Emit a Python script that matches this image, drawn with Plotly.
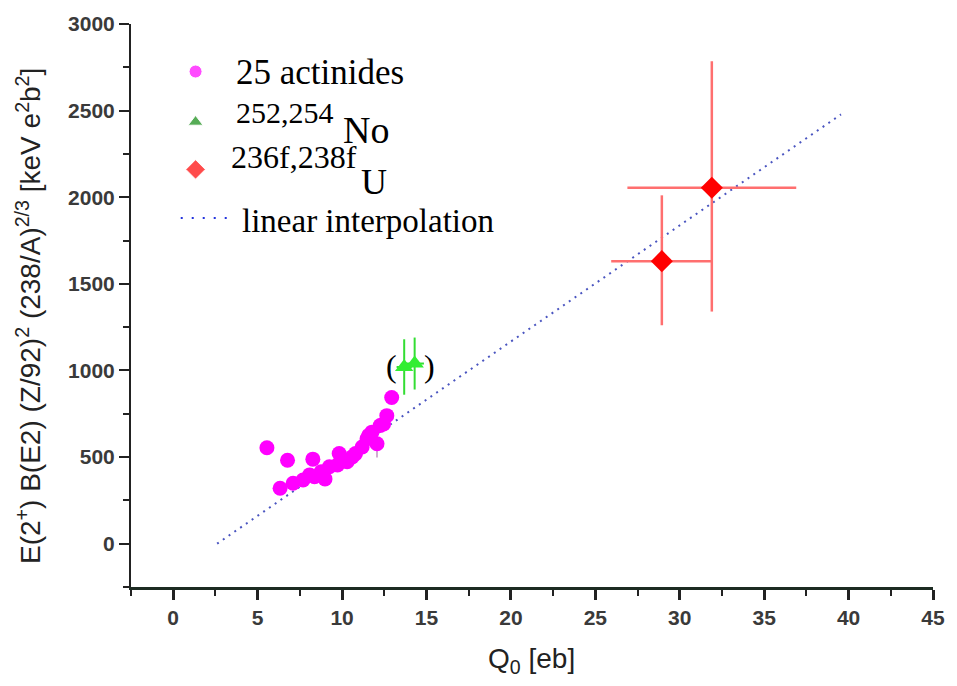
import plotly.graph_objects as go

# ---- data ----
act_q0 = [5.55, 6.77, 8.27, 6.33, 7.10, 7.69, 8.37, 8.99, 9.83, 9.73, 10.30, 10.80, 11.19,
          11.48, 11.77, 12.07, 12.26, 12.65, 12.94, 12.46, 9.25, 8.08, 11.58, 10.60, 8.76]
act_val = [554, 482, 488, 320, 349, 368, 387, 374, 520, 454, 473, 520, 558,
           606, 644, 577, 682, 739, 844, 691, 444, 397, 625, 501, 415]
act_err = [0, 0, 0, 0, 0, 0, 0, 0, 0, 0, 0, 0, 0,
           0, 0, 80, 0, 0, 0, 0, 0, 0, 0, 0, 0]

no_q0 = [13.68, 14.30]
no_val = [1020, 1040]
no_xerr = [0.45, 0.55]
no_yerr = [160, 150]

u_q0 = [28.94, 31.90]
u_val = [1631, 2055]
u_xerr = [3.0, 5.0]
u_yerr_plus = [380, 730]
u_yerr_minus = [370, 715]

fit_q0 = [2.6, 39.55]
fit_val = [0, 2478]

x_ticks = [0, 5, 10, 15, 20, 25, 30, 35, 40, 45]
y_ticks = [0, 500, 1000, 1500, 2000, 2500, 3000]

# legend symbol positions (axis fraction)
leg_x = [0.0805, 0.0805, 0.0805]
leg_y = [0.9156, 0.826, 0.7417]
leg_line_x = [0.062, 0.1248]
leg_line_y = [0.6555, 0.6555]

fig = go.Figure()

fig.add_trace(go.Scatter(
    x=fit_q0, y=fit_val, mode="lines",
    line=dict(color="#4a55c0", width=2, dash="2px,5px"),
    name="linear interpolation", showlegend=False))

fig.add_trace(go.Scatter(
    x=act_q0, y=act_val, mode="markers",
    marker=dict(symbol="circle", size=15, color="#ff00ff"),
    error_y=dict(type="data", array=act_err, color="#c090c0", thickness=1.5, width=0),
    name="25 actinides", showlegend=False))

fig.add_trace(go.Scatter(
    x=no_q0, y=no_val, mode="markers",
    marker=dict(symbol="triangle-up", size=16, color="#33ee33"),
    error_x=dict(type="data", array=no_xerr, color="#33dd33", thickness=2, width=0),
    error_y=dict(type="data", array=no_yerr, color="#33dd33", thickness=2, width=0),
    name="252,254No", showlegend=False))

fig.add_trace(go.Scatter(
    x=u_q0, y=u_val, mode="markers",
    marker=dict(symbol="diamond", size=17, color="#ff0000"),
    error_x=dict(type="data", array=u_xerr, color="#ff6f6f", thickness=2.5, width=0),
    error_y=dict(type="data", array=u_yerr_plus, arrayminus=u_yerr_minus,
                 color="#ff6f6f", thickness=2.5, width=0),
    name="236f,238fU", showlegend=False))

# legend symbols on an overlay axis
fig.add_trace(go.Scatter(
    x=leg_x, y=leg_y, mode="markers", xaxis="x2", yaxis="y2",
    marker=dict(symbol=["circle", "triangle-up", "diamond"], size=[13, 13, 15],
                color=["#ff00ff", "#108a10", "#ff0000"]),
    showlegend=False, hoverinfo="skip"))
fig.add_trace(go.Scatter(
    x=leg_line_x, y=leg_line_y, mode="lines", xaxis="x2", yaxis="y2",
    line=dict(color="#2233dd", width=2, dash="2px,9px"),
    showlegend=False, hoverinfo="skip"))

serif = "Liberation Serif, Times New Roman, serif"
sans = "Liberation Sans, Arial, sans-serif"

annotations = [
    dict(text="25 actinides", x=0.1300, y=0.9139, size=35),
    dict(text="252,254", x=0.1300, y=0.8436, size=30),
    dict(text="No", x=0.2630, y=0.8120, size=38),
    dict(text="236f,238f", x=0.1230, y=0.7645, size=32),
    dict(text="U", x=0.2850, y=0.7190, size=36),
    dict(text="linear interpolation", x=0.1370, y=0.6503, size=33),
]
ann = []
for a in annotations:
    ann.append(dict(text=a["text"], x=a["x"], y=a["y"], xref="paper", yref="paper",
                    xanchor="left", yanchor="middle", showarrow=False, borderpad=0,
                    font=dict(family=serif, size=a["size"], color="black")))

# parentheses around the No points
ann.append(dict(text="(", x=12.94, y=1025, xref="x", yref="y", showarrow=False,
                font=dict(family=serif, size=32, color="black")))
ann.append(dict(text=")", x=15.2, y=1025, xref="x", yref="y", showarrow=False,
                font=dict(family=serif, size=32, color="black")))

# axis titles
ann.append(dict(text="E(2<sup>+</sup>) B(E2) (Z/92)<sup>2</sup> (238/A)<sup>2/3</sup> [keV e<sup>2</sup>b<sup>2</sup>]",
                x=-0.128, y=0.482, xref="paper", yref="paper", textangle=-90,
                showarrow=False, xanchor="center", yanchor="middle",
                font=dict(family=sans, size=28, color="#222")))
ann.append(dict(text="Q<sub>0</sub> [eb]", x=0.499, y=-0.13, xref="paper", yref="paper",
                showarrow=False, xanchor="center", yanchor="middle",
                font=dict(family=sans, size=28, color="#222")))

fig.update_layout(
    width=957, height=686,
    margin=dict(l=131, r=13, t=18, b=99),
    plot_bgcolor="white", paper_bgcolor="white",
    showlegend=False,
    annotations=ann,
    xaxis=dict(range=[-2.5, 45], tickmode="array", tickvals=x_ticks,
               ticktext=[str(v) for v in x_ticks],
               showgrid=False, zeroline=False, showline=True, linecolor="#1d2b22",
               linewidth=2.5, ticks="outside", ticklen=10, tickwidth=2.5, tickcolor="#222",
               minor=dict(dtick=2.5, tick0=0, ticks="outside", ticklen=6, tickwidth=2,
                          tickcolor="#222", showgrid=False),
               tickfont=dict(family=sans, size=21, color="#3a3a3a", weight="bold")),
    yaxis=dict(range=[-250, 3000], tickmode="array", tickvals=y_ticks,
               ticktext=[str(v) for v in y_ticks],
               showgrid=False, zeroline=False, showline=True, linecolor="#222",
               linewidth=2, ticks="outside", ticklen=10, tickwidth=2, tickcolor="#222",
               minor=dict(dtick=250, tick0=0, ticks="outside", ticklen=6, tickwidth=1.5,
                          tickcolor="#222", showgrid=False),
               tickfont=dict(family=sans, size=21, color="#3a3a3a", weight="bold")),
    xaxis2=dict(overlaying="x", range=[0, 1], visible=False),
    yaxis2=dict(overlaying="y", range=[0, 1], visible=False),
)

fig.write_html("out.html")
